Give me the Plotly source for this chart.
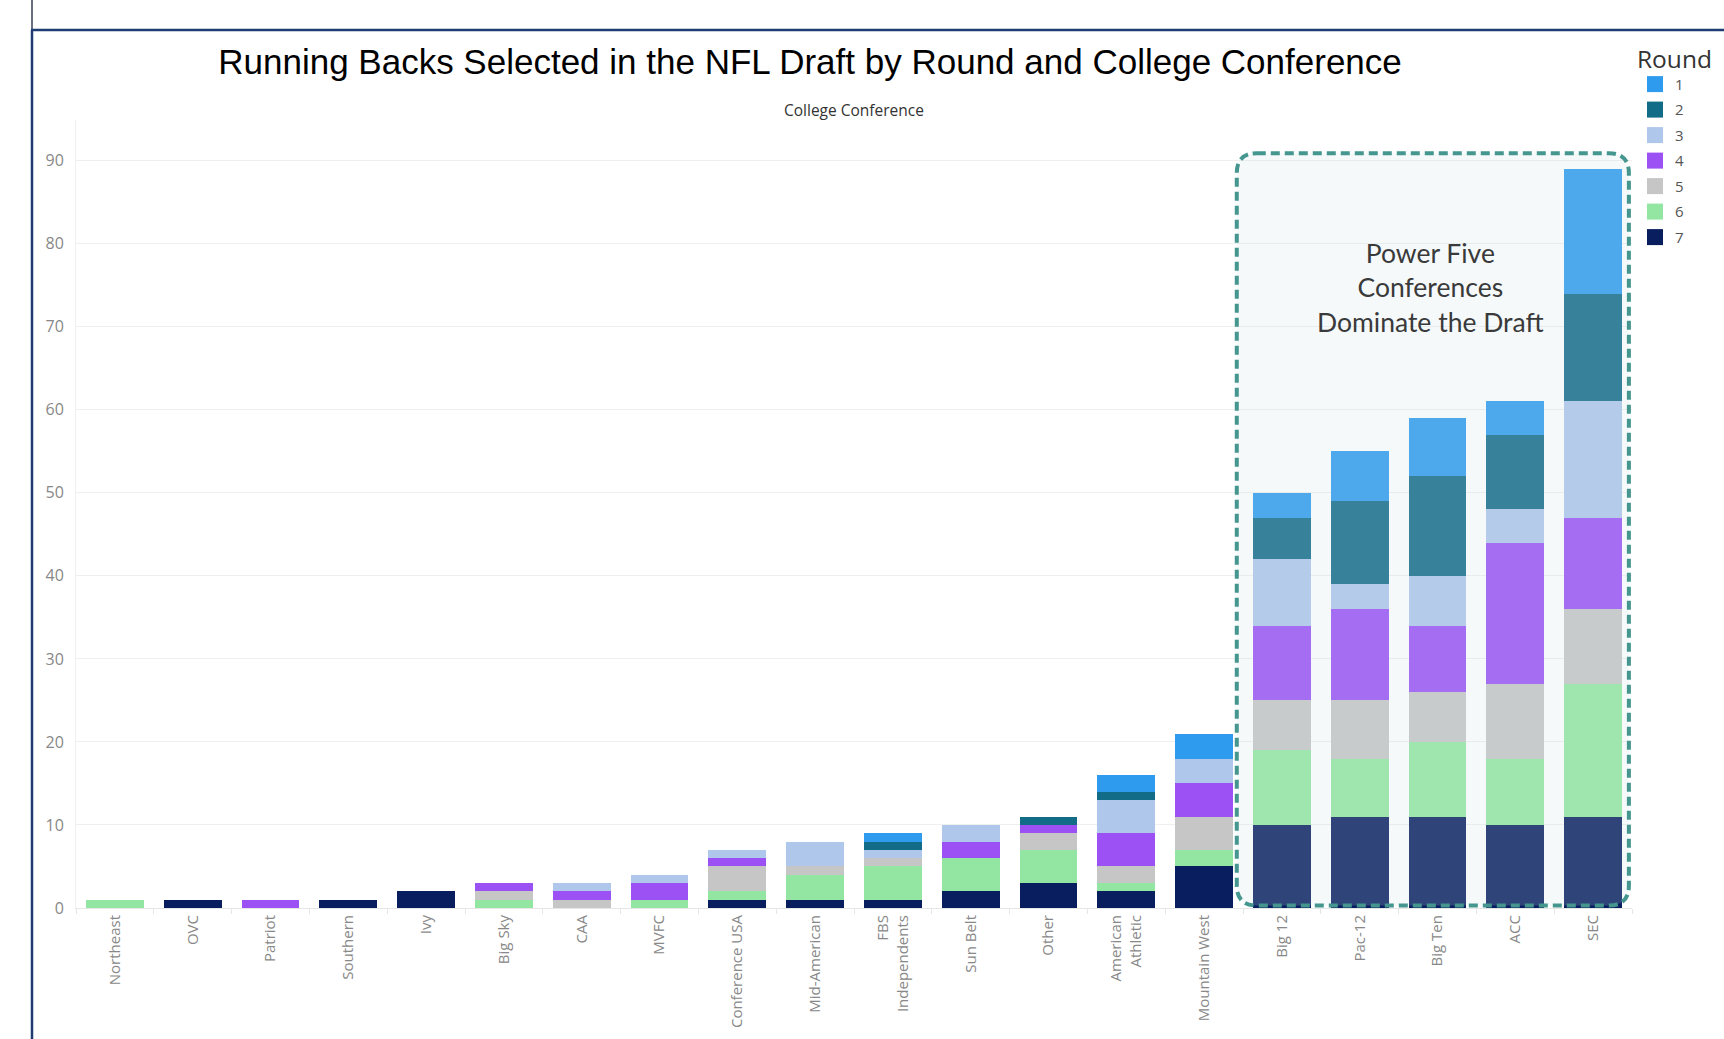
import plotly.graph_objects as go

# ---------------- data ----------------
conferences = ["Northeast", "OVC", "Patriot", "Southern", "Ivy", "Big Sky", "CAA", "MVFC",
               "Conference USA", "Mid-American", "FBS<br>Independents", "Sun Belt", "Other",
               "American<br>Athletic", "Mountain West", "Big 12", "Pac-12", "Big Ten", "ACC", "SEC"]

round_names = ["1", "2", "3", "4", "5", "6", "7"]
round_1 = [0, 0, 0, 0, 0, 0, 0, 0, 0, 0, 1, 0, 0, 2, 3, 3, 6, 7, 4, 15]
round_2 = [0, 0, 0, 0, 0, 0, 0, 0, 0, 0, 1, 0, 1, 1, 0, 5, 10, 12, 9, 13]
round_3 = [0, 0, 0, 0, 0, 0, 1, 1, 1, 3, 1, 2, 0, 4, 3, 8, 3, 6, 4, 14]
round_4 = [0, 0, 1, 0, 0, 1, 1, 2, 1, 0, 0, 2, 1, 4, 4, 9, 11, 8, 17, 11]
round_5 = [0, 0, 0, 0, 0, 1, 1, 0, 3, 1, 1, 0, 2, 2, 4, 6, 7, 6, 9, 9]
round_6 = [1, 0, 0, 0, 0, 1, 0, 1, 1, 3, 4, 4, 4, 1, 2, 9, 7, 9, 8, 16]
round_7 = [0, 1, 0, 1, 2, 0, 0, 0, 1, 1, 1, 2, 3, 2, 5, 10, 11, 11, 10, 11]

round_colors = ["#2E9BEE", "#126B87", "#AEC7EA", "#9B51F4", "#C6C6C6", "#93E6A1", "#081E5F"]

y_ticks = [0, 10, 20, 30, 40, 50, 60, 70, 80, 90]

title_text = "Running Backs Selected in the NFL Draft by Round and College Conference"
axis_title = "College Conference"
note_text = "Power Five<br>Conferences<br>Dominate the Draft"

# ---------------- layout geometry ----------------
W, H = 1724, 1039
ML, MR, MT, MB = 76, 92, 120, 131
PW, PH = W - ML - MR, H - MT - MB
x_range = [-0.5, len(conferences) - 0.5]
y_range = [0, 94.9]


def fx(px):
    return (px - ML) / PW


def fy(py):
    return (H - MB - py) / PH


def dx(v):
    return (v - x_range[0]) / (x_range[1] - x_range[0])


def dy(v):
    return (v - y_range[0]) / (y_range[1] - y_range[0])


series = [round_1, round_2, round_3, round_4, round_5, round_6, round_7]

fig = go.Figure()

# legend entries (square swatches)
for name, color in zip(round_names, round_colors):
    fig.add_trace(go.Scatter(
        x=[None], y=[None], mode="markers", name=name, legendgroup=name,
        marker=dict(symbol="square", size=16, color=color), showlegend=True,
        hoverinfo="skip"))

# stacked bars: round 7 at bottom ... round 1 on top
for name, vals, color in reversed(list(zip(round_names, series, round_colors))):
    fig.add_trace(go.Bar(
        x=conferences, y=vals, name=name, legendgroup=name, showlegend=False,
        marker=dict(color=color, line=dict(width=0)),
        hovertemplate="%{x}<br>Round " + name + ": %{y}<extra></extra>"))

# highlighted box around Power Five conferences
bx0, bx1 = dx(14.42), dx(19.46)
by0, by1 = dy(0.3), dy(90.9)
rx, ry = 20 / PW, 20 / PH
path = (f"M {bx0 + rx},{by1} L {bx1 - rx},{by1} Q {bx1},{by1} {bx1},{by1 - ry} "
        f"L {bx1},{by0 + ry} Q {bx1},{by0} {bx1 - rx},{by0} "
        f"L {bx0 + rx},{by0} Q {bx0},{by0} {bx0},{by0 + ry} "
        f"L {bx0},{by1 - ry} Q {bx0},{by1} {bx0 + rx},{by1} Z")

shapes = [
    dict(type="path", path=path, xref="paper", yref="paper", layer="above",
         fillcolor="rgba(205,225,230,0.2)",
         line=dict(color="#44968F", width=4, dash="9px,5px")),
    # frame lines
    dict(type="line", xref="paper", yref="paper", x0=fx(32), x1=fx(32), y0=fy(0), y1=fy(30),
         line=dict(color="#6A6E80", width=2)),
    dict(type="line", xref="paper", yref="paper", x0=fx(32), x1=fx(32), y0=fy(30), y1=fy(H),
         line=dict(color="#1F3C73", width=2.5)),
    dict(type="line", xref="paper", yref="paper", x0=fx(31), x1=fx(W + 5), y0=fy(30), y1=fy(30),
         line=dict(color="#1F3C73", width=2.5)),
]

annotations = [
    dict(text=axis_title, xref="paper", yref="paper", x=0.5, y=fy(110),
         showarrow=False, font=dict(family="Open Sans", size=15.5, color="#333333"),
         xanchor="center", yanchor="middle"),
    dict(text=note_text, xref="paper", yref="paper", x=fx(1430), y=fy(287),
         showarrow=False, font=dict(family="Lato", size=26.5, color="#3A3A3A"),
         xanchor="center", yanchor="middle", align="center"),
]

fig.update_layout(
    width=W, height=H,
    margin=dict(l=ML, r=MR, t=MT, b=MB, autoexpand=False),
    paper_bgcolor="white", plot_bgcolor="white",
    barmode="stack", bargap=0.255,
    title=dict(text=title_text, x=810 / W, xref="container", xanchor="center",
               y=1 - 62 / H, yref="container", yanchor="middle",
               font=dict(family="Liberation Sans, Arial", size=35, color="#000000")),
    xaxis=dict(type="category", categoryorder="array", categoryarray=conferences,
               range=x_range, tickangle=-90, showgrid=False,
               tickfont=dict(family="Open Sans", size=15, color="#888888"),
               ticks="outside", tickson="boundaries", ticklen=5, tickcolor="#E6E6E6",
               showline=True, linecolor="#E6E6E6", linewidth=1, fixedrange=True),
    yaxis=dict(range=y_range, tickvals=y_ticks, showgrid=True, gridcolor="#EFEFEF",
               gridwidth=1, zeroline=False, showline=True, linecolor="#F0F0F0",
               tickfont=dict(family="Open Sans", size=16, color="#888888"),
               ticks="", ticklabelstandoff=8, fixedrange=True),
    legend=dict(x=fx(1635), y=fy(36), xref="paper", yref="paper",
                xanchor="left", yanchor="top",
                title=dict(text="Round", font=dict(family="Open Sans", size=24.5, color="#333333")),
                font=dict(family="Open Sans", size=15, color="#555555"),
                traceorder="grouped", tracegroupgap=3, itemclick=False,
                bgcolor="rgba(0,0,0,0)"),
    shapes=shapes,
    annotations=annotations,
    hovermode="closest",
)

fig.write_html("out.html")
